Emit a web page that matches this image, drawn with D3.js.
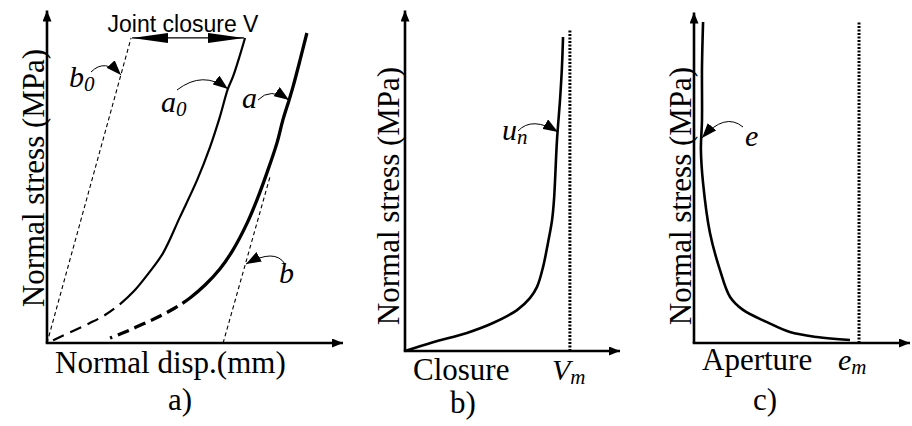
<!DOCTYPE html>
<html>
<head>
<meta charset="utf-8">
<script src="https://cdn.jsdelivr.net/npm/d3@7"></script>
<style>
  body { margin: 0; background: #fff; }
  text { fill: #000; }
  .serif { font-family: "Liberation Serif", "Times New Roman", serif; }
</style>
</head>
<body>
<div id="chart"></div>
<script>
// ---- data (arbitrary units, 0..100 on each axis) ----
// panel a
var b0Line = [[0, 0], [28.4, 91.6]];
var a0Solid = [[66.9, 91.6], [65.2, 86.5], [62.8, 79.9], [61.1, 76.3], [58.4, 67.9], [55.1, 58.9],
  [50.7, 48.9], [44.9, 37.8], [39.2, 27.0], [34.1, 20.7], [29.4, 15.6], [24.7, 11.7]];
var a0Dashed = [[24.7, 11.7], [19.6, 8.4], [14.5, 6.0], [8.8, 3.6], [3.7, 1.5], [0, 0]];
var aSolid = [[87.8, 93.1], [85.5, 85.0], [83.1, 76.9], [81.8, 73.0], [79.7, 67.0], [77.7, 60.1],
  [74.3, 51.1], [70.9, 42.9], [67.6, 36.0], [62.8, 27.9], [58.4, 22.2], [53.4, 17.4], [48.3, 13.5], [45.9, 12.0]];
var aDashed = [[45.9, 12.0], [43.2, 10.5], [38.2, 8.1], [32.4, 5.7], [26.4, 3.3], [21.3, 1.5]];
var bLine = [[59.5, 0], [75.3, 49.8]];
// panel b
var unCurve = [[0, 0], [13.0, 2.6], [28.8, 5.3], [40.9, 8.2], [52.1, 12.0], [58.1, 15.5], [61.4, 18.8],
  [64.2, 24.6], [66.5, 31.7], [68.4, 38.4], [69.3, 44.3], [70.7, 61.9], [72.1, 73.6], [73.0, 83.3], [73.5, 92.1]];
var vmLine = [[76.7, 0], [76.7, 94.1]];
// panel c
var eCurve = [[4.2, 97.0], [3.7, 83.4], [3.7, 67.4], [3.2, 58.3], [4.2, 48.3], [7.4, 33.2], [12.0, 22.1],
  [16.7, 13.9], [22.7, 10.0], [33.8, 6.3], [44.4, 3.3], [56.9, 1.8], [72.2, 0.9]];
var emLine = [[76.4, 0], [76.4, 97]];

var W = 912, H = 426;
var svg = d3.select("#chart").append("svg").attr("width", W).attr("height", H);

var defs = svg.append("defs");
function marker(id, len, wid) {
  defs.append("marker").attr("id", id)
    .attr("markerUnits", "userSpaceOnUse")
    .attr("viewBox", "0 0 " + len + " " + wid)
    .attr("refX", len).attr("refY", wid / 2)
    .attr("markerWidth", len).attr("markerHeight", wid)
    .attr("orient", "auto-start-reverse")
    .append("path").attr("d", "M0,0L" + len + "," + (wid / 2) + "L0," + wid + "Z").attr("fill", "#000");
}
marker("axisHead", 11, 9);
marker("ptrHead", 15, 11);
marker("bigHead", 36, 10);

// panel layouts
var panels = {
  a: { x: d3.scaleLinear().domain([0, 100]).range([47, 343]), y: d3.scaleLinear().domain([0, 100]).range([343, 10]) },
  b: { x: d3.scaleLinear().domain([0, 100]).range([405, 620]), y: d3.scaleLinear().domain([0, 100]).range([351, 10]) },
  c: { x: d3.scaleLinear().domain([0, 100]).range([694, 910]), y: d3.scaleLinear().domain([0, 100]).range([343, 12]) }
};

function lineGen(p, curve) {
  return d3.line().x(function(d) { return p.x(d[0]); }).y(function(d) { return p.y(d[1]); })
    .curve(curve || d3.curveLinear);
}

function drawAxes(p) {
  var g = svg.append("g");
  g.append("line").attr("x1", p.x(0)).attr("y1", p.y(0)).attr("x2", p.x(0)).attr("y2", p.y(100) + 0.5)
    .attr("stroke", "#000").attr("stroke-width", 2.6).attr("marker-end", "url(#axisHead)");
  g.append("line").attr("x1", p.x(0) - 1.3).attr("y1", p.y(0)).attr("x2", p.x(100)).attr("y2", p.y(0))
    .attr("stroke", "#000").attr("stroke-width", 2.6).attr("marker-end", "url(#axisHead)");
}

function path(p, data, w, dash, curve) {
  return svg.append("path").datum(data).attr("d", lineGen(p, curve))
    .attr("fill", "none").attr("stroke", "#000").attr("stroke-width", w)
    .attr("stroke-dasharray", dash || null);
}

// one smooth curve: solid part first, then dashed part
function solidThenDashed(p, solid, dashed, w, dash, gap) {
  var all = solid.concat(dashed.slice(1));
  var el = path(p, all, w, null, d3.curveCatmullRom.alpha(0.5));
  var node = el.node(), total = node.getTotalLength();
  var splitY = p.y(solid[solid.length - 1][1]), L = 0;
  for (var s = 0; s <= total; s += 0.5) {
    if (node.getPointAtLength(s).y >= splitY) { L = s; break; }
  }
  var arr = [L, gap];
  for (var used = L + gap; used < total + dash + gap; used += dash + gap) arr.push(dash, gap);
  arr.push(1000);
  el.attr("stroke-dasharray", arr.join(","));
}

// curved pointer arrow (pixel anchors from the picture)
function pointer(x0, y0, cx, cy, x1, y1) {
  svg.append("path").attr("d", "M" + x0 + "," + y0 + "Q" + cx + "," + cy + " " + x1 + "," + y1)
    .attr("fill", "none").attr("stroke", "#000").attr("stroke-width", 1)
    .attr("marker-end", "url(#ptrHead)");
}

function label(x, y, main, sub, size) {
  var t = svg.append("text").attr("class", "serif").attr("x", x).attr("y", y)
    .style("font-size", (size || 30) + "px").style("font-style", "italic").text(main);
  if (sub) t.append("tspan").attr("dy", 4).style("font-size", "21px").text(sub);
}

function yTitle(x, y) {
  svg.append("text").attr("class", "serif").attr("transform", "translate(" + x + "," + y + ") rotate(-90)")
    .attr("text-anchor", "middle").style("font-size", "31px").text("Normal stress (MPa)");
}

function plain(x, y, s, anchor) {
  svg.append("text").attr("class", "serif").attr("x", x).attr("y", y).attr("text-anchor", anchor || "start")
    .style("font-size", "31px").text(s);
}

// ---- panel a ----
var pa = panels.a;
drawAxes(pa);
path(pa, b0Line, 1.1, "4,3");
path(pa, bLine, 1.1, "4,3");
solidThenDashed(pa, a0Solid, a0Dashed, 2.2, 12, 7);
solidThenDashed(pa, aSolid, aDashed, 3.3, 12, 6);
// joint closure arrow
var jx0 = pa.x(b0Line[1][0]), jx1 = pa.x(a0Solid[0][0]), jy = pa.y(b0Line[1][1]);
svg.append("line").attr("x1", jx0 + 1).attr("x2", jx1 - 1).attr("y1", jy).attr("y2", jy)
  .attr("stroke", "#000").attr("stroke-width", 1.2)
  .attr("marker-start", "url(#bigHead)").attr("marker-end", "url(#bigHead)");
svg.append("text").attr("x", 183).attr("y", 32).attr("text-anchor", "middle")
  .style("font-family", "'Liberation Sans', Arial, sans-serif").style("font-size", "23px").text("Joint closure V");
label(69, 87, "b", "0");
pointer(91, 72, 105, 58, 121, 75);
label(161, 112, "a", "0");
pointer(177, 90, 203, 70, 228, 89);
label(242, 108, "a");
pointer(258, 100, 270, 87, 289, 100);
label(279, 283, "b");
pointer(285, 264, 275, 248, 246, 264);
yTitle(44, 178);
plain(55, 373, "Normal disp.(mm)");
plain(180, 410, "a)", "middle");

// ---- panel b ----
var pb = panels.b;
drawAxes(pb);
path(pb, vmLine, 3, "2,1.5");
path(pb, unCurve, 2.6, null, d3.curveCatmullRom.alpha(0.5));
label(502, 140, "u", "n");
pointer(518, 131, 532, 116, 558, 132);
yTitle(399, 196);
plain(413, 380, "Closure");
label(552, 380, "V", "m");
plain(463, 413, "b)", "middle");

// ---- panel c ----
var pc = panels.c;
drawAxes(pc);
path(pc, emLine, 3, "2,1.5");
path(pc, eCurve, 2.6, null, d3.curveCatmullRom.alpha(0.5));
label(745, 146, "e");
pointer(743, 127, 725, 112, 702, 138);
yTitle(691, 196);
plain(702, 370, "Aperture");
label(838, 370, "e", "m");
plain(765, 410, "c)", "middle");
</script>
</body>
</html>
